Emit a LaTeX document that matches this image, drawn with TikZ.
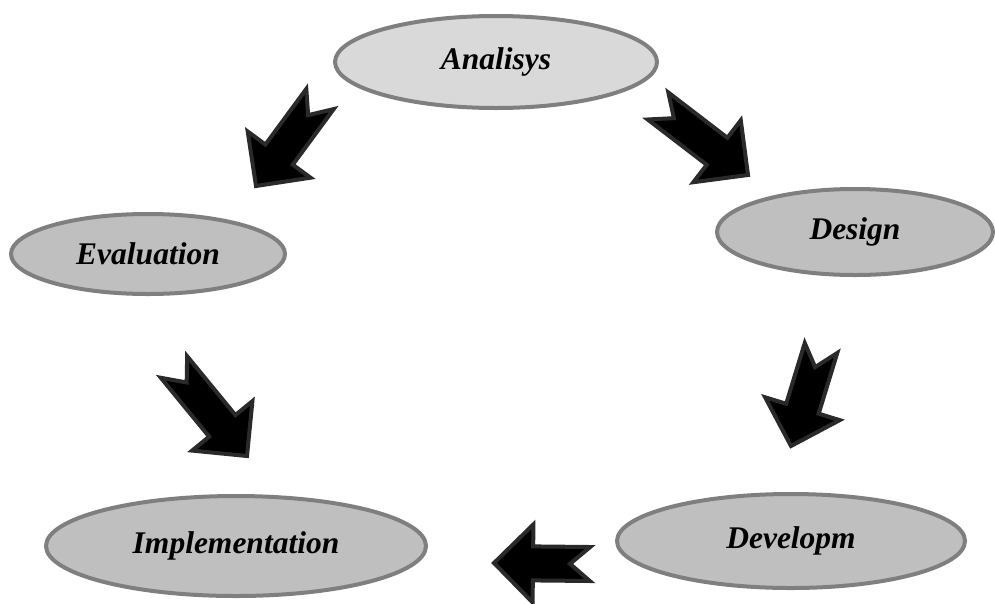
\documentclass[tikz,border=0pt]{standalone}
\usepackage{fontspec}
\setmainfont{Liberation Serif}
\usetikzlibrary{shapes.geometric, calc}

\definecolor{ringgray}{HTML}{7F7F7F}
\definecolor{topfill}{HTML}{D9D9D9}
\definecolor{phasefill}{HTML}{BFBFBF}
\definecolor{arrowedge}{HTML}{2A2A2A}

\newcommand{\blockarrow}[2]{%
  \filldraw[bigarr]
    ($(#1)!17pt!90:(#2)$) -- ($(#1)!20pt!(#2)$) -- ($(#1)!17pt!-90:(#2)$)
    -- ($(#2)!39pt!(#1)!17pt!-90:(#2)$) -- ($(#2)!39pt!(#1)!39pt!-90:(#2)$)
    -- (#2)
    -- ($(#2)!39pt!(#1)!39pt!90:(#2)$) -- ($(#2)!39pt!(#1)!17pt!90:(#2)$)
    -- cycle;}

\begin{document}
\begin{tikzpicture}[
  x=1pt, y=-1pt,
  phase/.style  = {ellipse, draw=ringgray, line width=4pt, fill=phasefill,
                   inner sep=0pt,
                   font=\fontsize{31.5}{36}\selectfont\bfseries\itshape},
  bigarr/.style = {fill=black, draw=arrowedge, line width=4pt, line join=miter},
]
\useasboundingbox (0,0) rectangle (995,603);

\node[phase, fill=topfill, minimum width=322pt, minimum height=92pt] (ana) at (496,62)  {Analisys};
\node[phase, minimum width=274pt, minimum height=80pt]  (eva) at (148,254) {Evaluation};
\node[phase, minimum width=276pt, minimum height=86pt]  (des) at (855,232) {Design};
\node[phase, minimum width=380pt, minimum height=100pt] (imp) at (236,546) {Implementation};
\node[phase, minimum width=348pt, minimum height=94pt]  (dev) at (791,541) {Developm};

\coordinate (a1s) at (320,99);  \coordinate (a1e) at (256,186);
\coordinate (a2s) at (658,106); \coordinate (a2e) at (748,175);
\coordinate (a3s) at (174,367); \coordinate (a3e) at (247,456);
\coordinate (a4s) at (821,348); \coordinate (a4e) at (791,446);
\coordinate (a5s) at (590,564); \coordinate (a5e) at (494,563);

\blockarrow{a1s}{a1e}
\blockarrow{a2s}{a2e}
\blockarrow{a3s}{a3e}
\blockarrow{a4s}{a4e}
\blockarrow{a5s}{a5e}
\end{tikzpicture}
\end{document}
